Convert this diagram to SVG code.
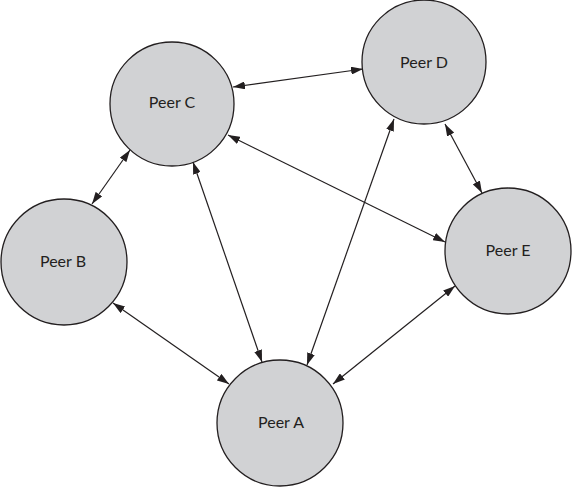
<svg xmlns="http://www.w3.org/2000/svg" width="572" height="487" viewBox="0 0 572 487">
<style>
.node circle{fill:#d1d2d4;stroke:#231f20;stroke-width:1.3}
.node text{font-family:Lato,"Liberation Sans",Arial,sans-serif;font-size:16px;fill:#231f20;text-anchor:middle;dominant-baseline:central}
.edges line{stroke:#231f20;stroke-width:1.2;marker-start:url(#ah);marker-end:url(#ah)}
</style>
<defs>
<marker id="ah" viewBox="0 0 12 8" refX="12" refY="4" markerWidth="12" markerHeight="8" markerUnits="userSpaceOnUse" orient="auto-start-reverse">
<path d="M0,0 L12,4 L0,8 z" fill="#231f20"/>
</marker>
</defs>
<rect width="572" height="487" fill="#fff"/>
<g id="peer-c" class="node"><circle cx="172" cy="104" r="62"/><text x="172" y="101.5">Peer C</text></g>
<g id="peer-d" class="node"><circle cx="424" cy="62" r="62"/><text x="424" y="61.5">Peer D</text></g>
<g id="peer-b" class="node"><circle cx="64" cy="262" r="63"/><text x="63" y="260.5">Peer B</text></g>
<g id="peer-e" class="node"><circle cx="508" cy="251" r="63"/><text x="508" y="249.5">Peer E</text></g>
<g id="peer-a" class="node"><circle cx="280" cy="423" r="63"/><text x="281" y="421.5">Peer A</text></g>
<g id="connectors" class="edges">
<line x1="233" y1="87" x2="363" y2="69"/>
<line x1="130" y1="150" x2="92" y2="204"/>
<line x1="445" y1="124" x2="482" y2="193"/>
<line x1="394" y1="119" x2="307" y2="365"/>
<line x1="193" y1="162" x2="262" y2="362"/>
<line x1="228" y1="135" x2="445" y2="242"/>
<line x1="113" y1="303" x2="229" y2="384"/>
<line x1="455" y1="286" x2="333" y2="384"/>
</g>
</svg>
